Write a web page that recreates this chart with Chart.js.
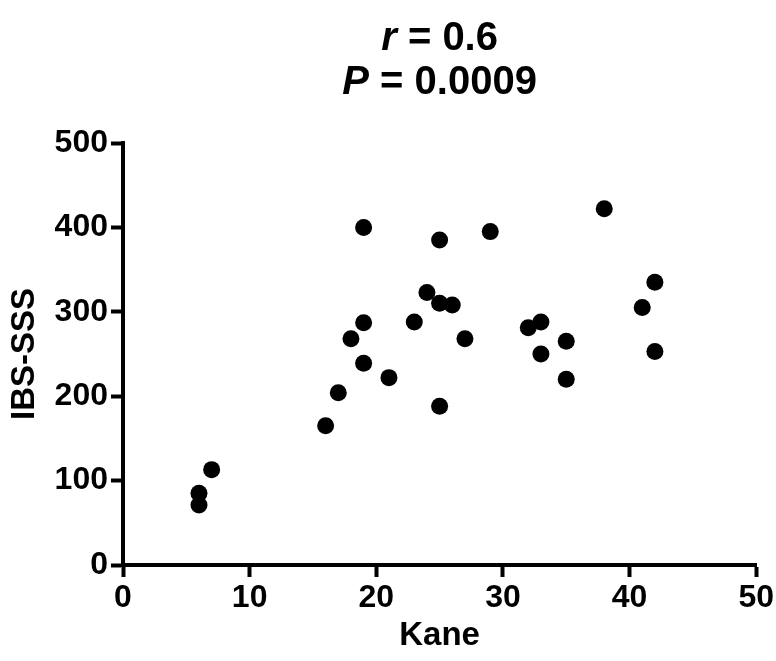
<!DOCTYPE html>
<html><head><meta charset="utf-8">
<script src="https://cdn.jsdelivr.net/npm/chart.js@4"></script>
<style>html,body{margin:0;padding:0;background:#fff}#wrap{width:776px;height:661px}canvas{display:block}</style>
</head><body><div id="wrap"><canvas id="c" width="776" height="661"></canvas></div>
<script>
const kane = [6,6,7,16,17,18,19,19,19,21,23,24,25,25,25,26,27,29,32,33,33,35,35,38,41,42,42];
const ibsSss = [85,71,113,165,204,268,400,287,239,222,288,323,310,385,188,308,268,395,281,288,250,265,220,422,305,335,253];
const xTicks = [0,10,20,30,40,50];
const yTicks = [0,100,200,300,400,500];
const titleLines = [["r"," = 0.6"],["P"," = 0.0009"]];
const xTitle = "Kane";
const yTitle = "IBS-SSS";

const FAM = '"Liberation Sans", Arial, Helvetica, sans-serif';

const titlePlugin = {
  id: 'mixedTitle',
  afterDraw(chart) {
    const ctx = chart.ctx, ca = chart.chartArea;
    const cx = (ca.left + ca.right) / 2;
    const baselines = [50, 94];
    const fItal = 'italic bold 40px ' + FAM;
    const fBold = 'bold 40px ' + FAM;
    ctx.save();
    ctx.fillStyle = '#000';
    ctx.textBaseline = 'alphabetic';
    ctx.textAlign = 'left';
    titleLines.forEach((parts, i) => {
      ctx.font = fItal; const w1 = ctx.measureText(parts[0]).width;
      ctx.font = fBold; const w2 = ctx.measureText(parts[1]).width;
      const x = cx - (w1 + w2) / 2;
      ctx.font = fItal; ctx.fillText(parts[0], x, baselines[i]);
      ctx.font = fBold; ctx.fillText(parts[1], x + w1, baselines[i]);
    });
    ctx.restore();
  }
};

new Chart(document.getElementById('c'), {
  type: 'scatter',
  data: {
    datasets: [{
      data: kane.map((k, i) => ({x: k, y: ibsSss[i]})),
      backgroundColor: '#000',
      borderWidth: 0,
      pointRadius: 8.5,
      pointHoverRadius: 8.5,
      clip: false
    }]
  },
  options: {
    responsive: false,
    animation: false,
    events: [],
    layout: {padding: {top: 143, right: 19, bottom: 0, left: 0}},
    plugins: {legend: {display: false}, tooltip: {enabled: false}, title: {display: false}},
    scales: {
      x: {
        type: 'linear', min: 0, max: 50,
        afterBuildTicks: s => { s.ticks = xTicks.map(v => ({value: v})); },
        afterFit: s => { s.height = 96; },
        grid: {display: true, drawOnChartArea: false, drawTicks: true, tickLength: 12, tickWidth: 4, tickColor: '#000'},
        border: {display: true, color: '#000', width: 4},
        ticks: {color: '#000', font: {family: FAM, size: 32, weight: 'bold'}, padding: 2, maxRotation: 0},
        title: {display: true, text: xTitle, color: '#000', font: {family: FAM, size: 33, weight: 'bold'}, padding: {top: 0, bottom: 5}}
      },
      y: {
        type: 'linear', min: 0, max: 500,
        afterBuildTicks: s => { s.ticks = yTicks.map(v => ({value: v})); },
        afterFit: s => { s.width = 123; },
        grid: {display: true, drawOnChartArea: false, drawTicks: true, tickLength: 12, tickWidth: 4, tickColor: '#000'},
        border: {display: true, color: '#000', width: 4},
        ticks: {color: '#000', font: {family: FAM, size: 32, weight: 'bold'}, padding: 3},
        title: {display: true, text: yTitle, color: '#000', font: {family: FAM, size: 33, weight: 'bold'}, padding: {top: 5, bottom: 0}}
      }
    }
  },
  plugins: [titlePlugin]
});
</script>
</body></html>
